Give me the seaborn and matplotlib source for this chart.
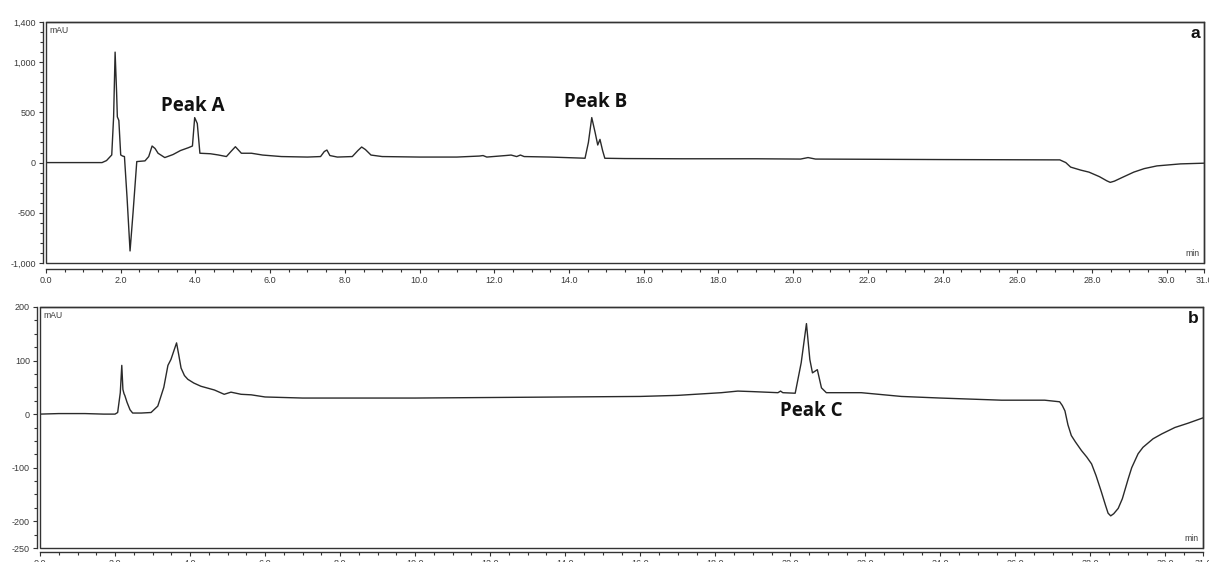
import matplotlib
matplotlib.use("Agg")
import matplotlib.pyplot as plt
import pandas as pd
import seaborn as sns
from matplotlib.patches import Rectangle
from matplotlib.ticker import FixedLocator, MultipleLocator, FuncFormatter

sns.set_theme(style="white")
plt.rcParams['font.family'] = ['Liberation Sans', 'DejaVu Sans']

# Chromatogram a: retention time (min) and detector response (mAU)
time_a = [0, 1.5, 1.62, 1.72, 1.76, 1.81, 1.85, 1.89, 1.91, 1.95, 2.0, 2.05, 2.1,
          2.17, 2.25, 2.33, 2.43, 2.65, 2.75, 2.84, 2.92, 3.0, 3.18, 3.4, 3.6,
          3.81, 3.92, 3.98, 4.05, 4.12, 4.4, 4.61, 4.83, 4.95, 5.07, 5.23, 5.5,
          5.8, 6.3, 7.0, 7.35, 7.45, 7.52, 7.6, 7.8, 8.2, 8.35, 8.45, 8.55, 8.7,
          9.0, 10.0, 11.0, 11.6, 11.7, 11.8, 12.3, 12.45, 12.6, 12.7, 12.8, 13.5,
          14.3, 14.43, 14.52, 14.61, 14.7, 14.77, 14.83, 14.9, 14.96, 15.5, 17.0,
          19.0, 20.2, 20.4, 20.6, 22.0, 24.0, 26.0, 27.0, 27.14, 27.3, 27.43,
          27.7, 27.92, 28.2, 28.4, 28.49, 28.6, 28.8, 29.12, 29.4, 29.74, 30.37,
          31.0]
signal_a = [0, 0, 20, 60, 76, 455, 1100, 700, 455, 420, 76, 65, 60,
            -350, -880, -500, 10, 17, 60, 165, 140, 93, 50, 80, 120,
            148, 165, 448, 389, 93, 88, 76, 60, 110, 158, 93, 93,
            75, 60, 55, 60, 110, 125, 70, 55, 60, 120, 155, 130, 75,
            60, 55, 55, 65, 70, 55, 70, 75, 60, 75, 60, 55,
            45, 43, 200, 448, 300, 175, 231, 120, 43, 40, 38,
            38, 35, 50, 35, 33, 30, 28, 27, 27, 0, -45,
            -75, -95, -140, -182, -197, -185, -150, -95, -60, -33, -13,
            -6]

# Chromatogram b
time_b = [0, 0.5, 1.2, 1.7, 2.0, 2.07, 2.14, 2.18, 2.21, 2.24, 2.26, 2.32, 2.4,
          2.47, 2.7, 2.96, 3.14, 3.3, 3.41, 3.49, 3.64, 3.7, 3.76, 3.85, 3.94,
          4.1, 4.29, 4.65, 4.91, 5.09, 5.36, 5.63, 6.0, 7.0, 8.0, 9.0, 10.0,
          12.0, 14.0, 16.0, 17.0, 18.16, 18.6, 19.0, 19.67, 19.74, 19.8, 20.13,
          20.29, 20.43, 20.52, 20.59, 20.72, 20.83, 20.96, 21.89, 22.96, 24.0,
          25.63, 26.78, 27.18, 27.25, 27.32, 27.4, 27.49, 27.6, 27.76, 27.9,
          28.03, 28.15, 28.29, 28.4, 28.47, 28.54, 28.62, 28.74, 28.85, 29.01,
          29.1, 29.27, 29.4, 29.67, 29.9, 30.25, 30.6, 31.0]
signal_b = [0, 1, 1, 0, 0, 3, 40, 91, 46, 38, 35, 22, 8,
            2, 2, 3, 15, 50, 91, 102, 133, 110, 86, 72, 65,
            58, 52, 45, 37, 41, 37, 36, 32, 30, 30, 30, 30,
            31, 32, 33, 35, 40, 43, 42, 40, 43, 40, 39,
            96, 169, 102, 77, 83, 49, 40, 40, 33, 30,
            26, 26, 23, 16, 6, -20, -40, -52, -68, -80,
            -93, -115, -145, -170, -185, -190, -186, -176, -158, -120,
            -100, -74, -62, -46, -37, -25, -17, -7]

# Axis scales
x_major = [0, 2, 4, 6, 8, 10, 12, 14, 16, 18, 20, 22, 24, 26, 28, 30, 31]
y_ticks_a = [-1000, -500, 0, 500, 1000, 1400]
y_ticks_b = [-250, -200, -100, 0, 100, 200]

# Peak annotations: (label, time, response)
peaks_a = [("Peak A", 3.93, 511), ("Peak B", 14.71, 553)]
peaks_b = [("Peak C", 20.55, -4)]

LINE = "#2a2a2a"
TICK = "#3a3a3a"

W, H = 1209, 562
fig = plt.figure(figsize=(W / 100, H / 100), dpi=100)
ax_a = fig.add_axes([46 / W, 1 - 263 / H, (1204 - 46) / W, 241 / H])
ax_b = fig.add_axes([40 / W, 1 - 548 / H, (1203 - 40) / W, 241 / H])


def draw(ax, t, s, ylim, yticks, yminor, tag, peaks, bottom_off):
    df = pd.DataFrame({"time": t, "signal": s})
    sns.lineplot(data=df, x="time", y="signal", ax=ax, color=LINE,
                 linewidth=1.0, estimator=None, sort=False)
    ax.set(xlabel="", ylabel="")
    ax.set_xlim(0, 31)
    ax.set_ylim(*ylim)

    for side, sp in ax.spines.items():
        sp.set_color("#333333")
        sp.set_linewidth(1.0)
    ax.spines["left"].set_position(("outward", 2))
    ax.spines["bottom"].set_position(("outward", bottom_off))
    ax.add_patch(Rectangle((0, 0), 1, 1, transform=ax.transAxes, fill=False,
                           edgecolor="#333333", linewidth=1.0, clip_on=False,
                           zorder=3))

    ax.xaxis.set_major_locator(FixedLocator(x_major))
    ax.xaxis.set_major_formatter(FuncFormatter(lambda v, p: f"{v:.1f}"))
    ax.xaxis.set_minor_locator(MultipleLocator(0.5))
    ax.yaxis.set_major_locator(FixedLocator(yticks))
    ax.yaxis.set_major_formatter(FuncFormatter(lambda v, p: f"{int(round(v)):,}"))
    ax.yaxis.set_minor_locator(MultipleLocator(yminor))

    ax.tick_params(which="both", bottom=True, left=True, top=False, right=False,
                   direction="out", color="#333333", width=0.8)
    ax.tick_params(which="major", length=3.2, labelsize=6.5, labelcolor=TICK,
                   pad=2)
    ax.tick_params(which="minor", length=2.2)

    ax.annotate("mAU", xy=(0, 1), xycoords="axes fraction", xytext=(2.5, -3),
                textcoords="offset points", ha="left", va="top", fontsize=6.2,
                color=TICK)
    ax.annotate("min", xy=(1, 0), xycoords="axes fraction", xytext=(-3.5, 3.5),
                textcoords="offset points", ha="right", va="bottom",
                fontsize=6.2, color=TICK)
    ax.annotate(tag, xy=(1, 1), xycoords="axes fraction", xytext=(-3, -3),
                textcoords="offset points", ha="right", va="top",
                fontsize=12.5, fontweight="bold", color="#111111")

    for label, px, py in peaks:
        ax.text(px, py, label, ha="center", va="baseline", fontsize=13.5,
                fontweight="bold", family=["Open Sans", "DejaVu Sans"],
                color="#111111")


draw(ax_a, time_a, signal_a, (-1000, 1400), y_ticks_a, 100, "a", peaks_a, 4)
draw(ax_b, time_b, signal_b, (-250, 200), y_ticks_b, 25, "b", peaks_b, 3)

fig.savefig("out.png", dpi=100, facecolor="white")
